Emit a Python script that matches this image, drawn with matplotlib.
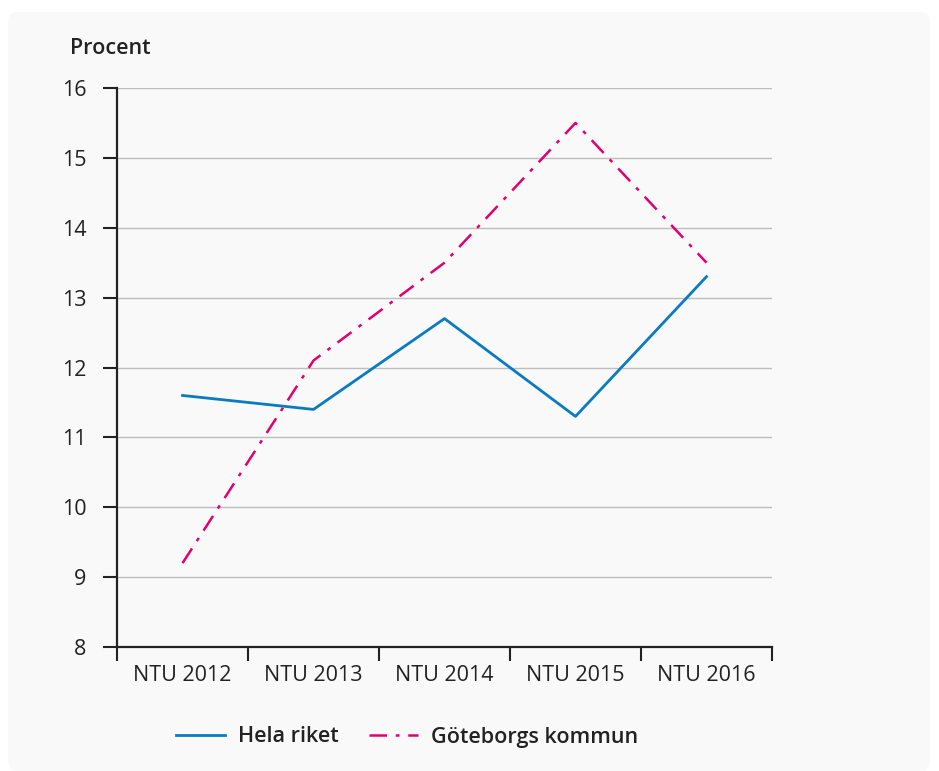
import numpy as np
import matplotlib
matplotlib.use("Agg")
import matplotlib.pyplot as plt
from matplotlib.patches import FancyBboxPatch

plt.rcParams['font.family'] = ['Open Sans', 'DejaVu Sans']

# data
kategorier = ['NTU 2012', 'NTU 2013', 'NTU 2014', 'NTU 2015', 'NTU 2016']
hela_riket = [11.6, 11.4, 12.7, 11.3, 13.3]
goteborg = [9.2, 12.1, 13.5, 15.5, 13.5]
yticks = [8, 9, 10, 11, 12, 13, 14, 15, 16]

W, H = 939, 771
fig = plt.figure(figsize=(W/100, H/100), dpi=100)
fig.patch.set_facecolor('white')

# ljusgra panel bakom diagrammet
panel = FancyBboxPatch((8/W, 0), (930-8)/W, (H-12)/H,
                       boxstyle="round,pad=0,rounding_size=0.012",
                       transform=fig.transFigure, fc='#f9f9f9', ec='none', zorder=-5)
fig.patches.append(panel)

ax = fig.add_axes([117/W, 1-647/H, (772-117)/W, (647-88)/H])
ax.set_facecolor('none')

fs = 15.5
x = np.arange(len(kategorier))
blue, pink = '#0a7bc1', '#e2006e'
ax.plot(x, hela_riket, color=blue, lw=2.0, label='Hela riket', zorder=3)
ax.plot(x, goteborg, color=pink, lw=1.8, dashes=(7, 3.5, 1.5, 3.5),
        label='Göteborgs kommun', zorder=3)

ax.set_xlim(-0.5, len(kategorier)-0.5)
ax.set_ylim(8, 16)
ax.set_yticks(yticks)
ax.set_yticklabels([str(v) for v in yticks])
ax.set_xticks(x)
ax.set_xticklabels(kategorier)
ax.set_xticks(np.arange(len(kategorier)+1)-0.5, minor=True)
ax.tick_params(axis='x', which='major', length=0, pad=13, labelsize=fs, colors='#222222')
ax.tick_params(axis='x', which='minor', length=10, width=1.5, direction='out', color='#222222')
ax.tick_params(axis='y', length=10, width=1.5, pad=12, labelsize=fs, colors='#222222')

for v in yticks[1:]:
    ax.axhline(v, color='#bdbdbd', lw=1.0, zorder=1)

for s in ['top', 'right']:
    ax.spines[s].set_visible(False)
for s in ['left', 'bottom']:
    ax.spines[s].set_linewidth(1.6)
    ax.spines[s].set_color('#222222')

fig.text(70/W, 1-48/H, 'Procent', fontsize=fs, fontweight='semibold',
         color='#222222', va='center', ha='left')

leg = fig.legend(loc='center', bbox_to_anchor=(407/W, 1-737/H), ncol=2, frameon=False,
                 prop={'size': fs, 'weight': 'semibold'}, handlelength=2.3,
                 columnspacing=1.4, handletextpad=0.6)
for t in leg.get_texts():
    t.set_color('#222222')

fig.savefig('out.png', dpi=100)
